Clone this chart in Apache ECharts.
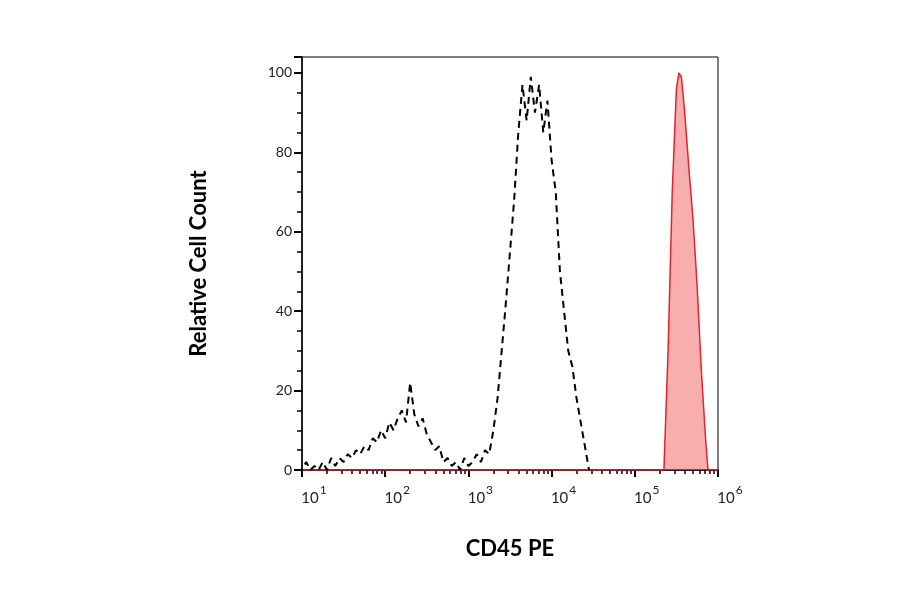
<!DOCTYPE html>
<html>
<head>
<meta charset="utf-8">
<script src="https://cdn.jsdelivr.net/npm/echarts@6/dist/echarts.min.js"></script>
</head>
<body style="margin:0;background:#fff">
<div id="main" style="width:900px;height:594px;"></div>
<script>
// log10 of CD45 PE intensity, and relative counts
var isoLog = [0.95,1.0,1.05,1.1,1.15,1.2,1.25,1.3,1.35,1.4,1.45,1.5,1.55,1.6,1.65,1.7,1.75,1.8,1.85,1.9,1.95,2.0,2.05,2.1,2.15,2.2,2.25,2.3,2.35,2.4,2.45,2.5,2.55,2.6,2.65,2.7,2.75,2.8,2.85,2.9,2.95,3.0,3.05,3.1,3.15,3.2,3.25,3.3,3.35,3.4,3.45,3.5,3.55,3.6,3.65,3.7,3.75,3.8,3.85,3.9,3.95,4.0,4.05,4.1,4.15,4.2,4.25,4.3,4.35,4.4,4.45];
var isoCount = [1,0,2,0,1,0,2,0,3,1,3,2,4,3,5,4,6,5,8,7,10,8,12,10,13,15,12,22,14,11,13,9,7,5,6,2,3,1,2,0,3,1,2,4,2,5,4,10,18,30,42,55,68,85,97,88,99,90,97,85,93,78,70,50,40,30,26,18,12,6,0];
var cd45Log = [1.0,5.3,5.35,5.4,5.45,5.5,5.53,5.56,5.6,5.65,5.7,5.75,5.8,5.85,5.88,6.0];
var cd45Count = [0,0,0,30,70,96,100,99,90,76,63,46,25,8,0,0];

function pts(lg, c) { return lg.map(function (v, i) { return [Math.pow(10, v), c[i]]; }); }

var chart = echarts.init(document.getElementById('main'));
chart.setOption({
    animation: false,
    grid: { left: 302, right: 182, top: 57, bottom: 124, show: true, borderColor: '#000', borderWidth: 1 },
    xAxis: {
        type: 'log', min: 10, max: 1e6, logBase: 10,
        name: 'CD45 PE', nameLocation: 'middle', nameGap: 68,
        nameTextStyle: { fontFamily: 'Lato', fontWeight: 'bold', fontSize: 22, color: '#000' },
        axisLine: { lineStyle: { color: '#000', width: 1.5 } },
        axisTick: { length: 7, lineStyle: { width: 2, color: '#000' } },
        minorTick: { show: true, splitNumber: 9, length: 4, lineStyle: { color: '#000', width: 1.5 } },
        splitLine: { show: false },
        axisLabel: {
            margin: 14, padding: [0, 0, 0, 24],
            formatter: function (v) { return '{b|10}{s|' + Math.round(Math.log10(v)) + '}'; },
            rich: {
                b: { fontFamily: 'Lato', fontSize: 15, color: '#222', verticalAlign: 'bottom' },
                s: { fontFamily: 'Lato', fontSize: 12, color: '#222', verticalAlign: 'top', padding: [0, 0, 10, 1] }
            }
        }
    },
    yAxis: {
        type: 'value', min: 0, max: 104, interval: 20,
        name: 'Relative Cell Count', nameLocation: 'middle', nameGap: 92,
        nameTextStyle: { fontFamily: 'Lato', fontWeight: 'bold', fontSize: 22, color: '#000' },
        axisLine: { show: true, lineStyle: { color: '#000', width: 1.5 } },
        axisTick: { show: true, length: 8, lineStyle: { width: 2, color: '#000' } },
        minorTick: { show: true, splitNumber: 4, length: 5, lineStyle: { color: '#000', width: 1.5 } },
        splitLine: { show: false },
        axisLabel: {
            margin: 10, fontFamily: 'Lato', fontSize: 14, color: '#222',
            formatter: function (v) { return v > 100 ? '' : v; }
        }
    },
    series: [
        {
            type: 'line', data: pts(cd45Log, cd45Count), showSymbol: false,
            lineStyle: { color: '#e8212a', width: 1.5 },
            areaStyle: { color: 'rgba(242,100,100,0.75)' }, z: 1
        },
        {
            type: 'line', data: pts(isoLog, isoCount), showSymbol: false,
            lineStyle: { color: '#000', width: 2, type: [7, 5] }, z: 2
        }
    ]
});
</script>
</body>
</html>
